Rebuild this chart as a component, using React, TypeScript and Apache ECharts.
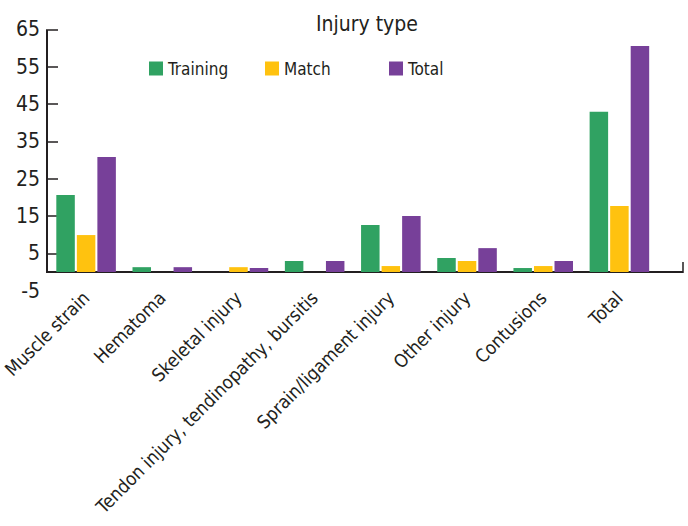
import React, { useEffect, useRef } from "react";
import * as echarts from "echarts";

const categories = [
  "Muscle strain",
  "Hematoma",
  "Skeletal injury",
  "Tendon injury, tendinopathy, bursitis",
  "Sprain/ligament injury",
  "Other injury",
  "Contusions",
  "Total",
];
const trainingValues = [20.6, 1.3, 0, 2.95, 12.6, 3.75, 1.07, 42.9];
const matchValues = [9.9, 0, 1.3, 0, 1.6, 2.95, 1.6, 17.7];
const totalValues = [30.8, 1.3, 1.07, 2.95, 15.0, 6.4, 2.95, 60.5];
const yLabelValues = [-5, 5, 15, 25, 35, 45, 55, 65];
const yTickValues = [5, 15, 25, 35, 45, 55, 65];

const W = 688;
const H = 526;
const AXIS_X = 47;
const GRID_LEFT = 48;
const GRID_RIGHT = 30.5;
const AXIS_END_X = 683;
const FONT = "'DejaVu Sans Condensed', 'Liberation Sans Narrow', sans-serif";
const INK = "#231F20";
const GREEN = "#30A262";
const YELLOW = "#FFC20F";
const PURPLE = "#774099";

export default function App() {
  const ref = useRef<HTMLDivElement>(null);
  useEffect(() => {
    document.body.style.margin = "0";
    if (!ref.current) return;
    const chart = echarts.init(ref.current, null, { renderer: "svg" });
    const legendBase = {
      top: 60,
      padding: 0,
      itemWidth: 14,
      itemHeight: 14,
      icon: "rect",
      itemGap: 0,
      textStyle: { fontFamily: FONT, fontSize: 17, color: INK },
    };
    const barBase = { type: "bar", barWidth: 18.5, barGap: "11%" };
    chart.setOption({
      animation: false,
      title: {
        text: "Injury type",
        left: 316,
        top: 13,
        padding: 0,
        textStyle: { fontFamily: FONT, fontSize: 21, fontWeight: "normal", color: INK },
      },
      legend: [
        { ...legendBase, left: 149, data: ["Training"] },
        { ...legendBase, left: 265, data: ["Match"] },
        { ...legendBase, left: 389, data: ["Total"] },
      ],
      grid: {
        left: GRID_LEFT,
        right: GRID_RIGHT,
        top: 29.3,
        bottom: H - 290.7,
        containLabel: false,
        outerBoundsMode: "none",
      },
      xAxis: {
        type: "category",
        data: categories,
        axisLine: { show: true, onZero: true, lineStyle: { color: INK, width: 2 } },
        axisTick: { show: false },
        axisLabel: {
          interval: 0,
          rotate: 45,
          margin: 4,
          fontFamily: FONT,
          fontSize: 18.5,
          color: INK,
        },
      },
      yAxis: {
        type: "value",
        min: -5,
        max: 65,
        interval: 10,
        splitLine: { show: false },
        axisLine: { show: false },
        axisTick: {
          show: true,
          inside: true,
          length: 10,
          customValues: yTickValues,
          lineStyle: { color: INK, width: 1.5 },
        },
        axisLabel: {
          customValues: yLabelValues,
          margin: 8,
          fontFamily: FONT,
          fontSize: 21,
          color: INK,
        },
      },
      series: [
        { ...barBase, name: "Training", data: trainingValues, itemStyle: { color: GREEN } },
        { ...barBase, name: "Match", data: matchValues, itemStyle: { color: YELLOW } },
        { ...barBase, name: "Total", data: totalValues, itemStyle: { color: PURPLE } },
      ],
    });
    const yTop = chart.convertToPixel({ yAxisIndex: 0 }, 65) as number;
    const yZero = chart.convertToPixel({ yAxisIndex: 0 }, 0) as number;
    chart.setOption({
      graphic: [
        {
          type: "line",
          shape: { x1: AXIS_X, y1: yTop, x2: AXIS_X, y2: yZero + 1 },
          style: { stroke: INK, lineWidth: 2 },
        },
        {
          type: "line",
          shape: { x1: AXIS_X, y1: yZero, x2: AXIS_END_X, y2: yZero },
          style: { stroke: INK, lineWidth: 2 },
        },
        {
          type: "line",
          shape: { x1: AXIS_END_X, y1: yZero - 10, x2: AXIS_END_X, y2: yZero + 1 },
          style: { stroke: INK, lineWidth: 1.5 },
        },
      ],
    });
    return () => chart.dispose();
  }, []);
  return <div ref={ref} style={{ width: W, height: H }} />;
}
